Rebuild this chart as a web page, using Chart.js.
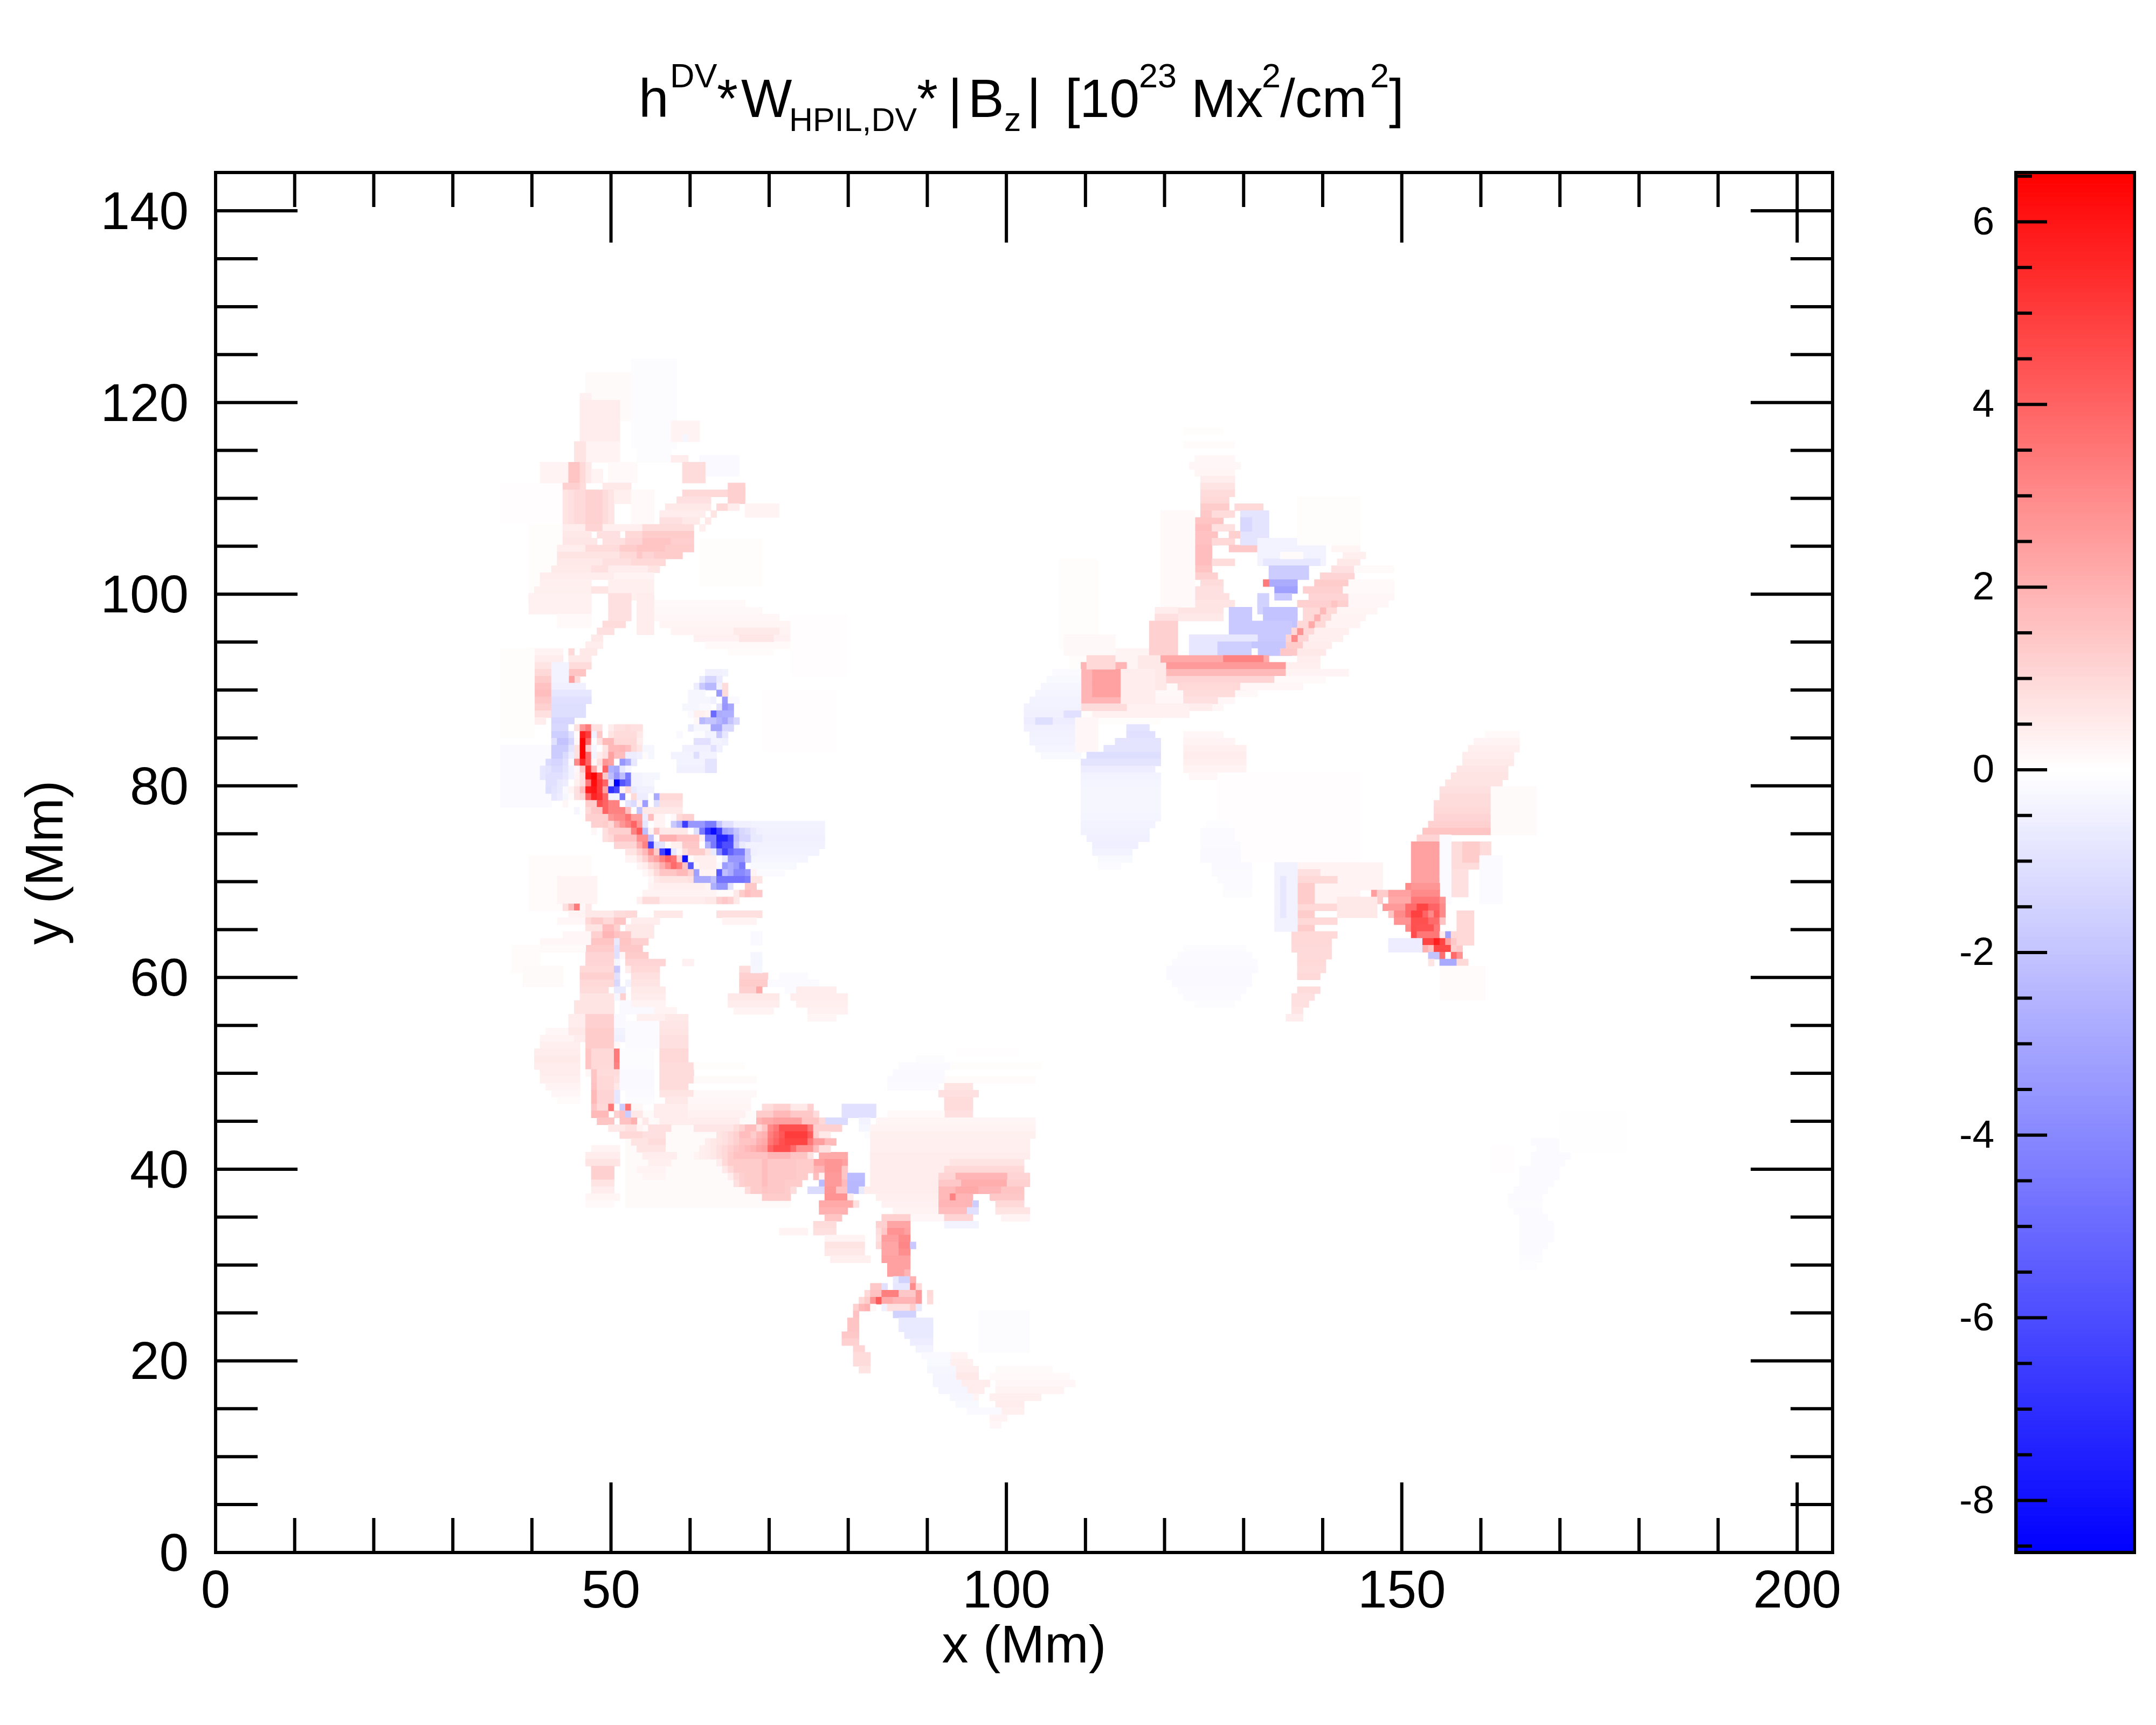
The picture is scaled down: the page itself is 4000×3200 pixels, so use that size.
<!DOCTYPE html>
<html><head><meta charset="utf-8">
<script src="https://cdn.jsdelivr.net/npm/chart.js@4"></script>
<style>
html,body{margin:0;padding:0;background:#fff;width:4000px;height:3200px;overflow:hidden}
canvas{position:absolute;display:block}
#title{position:absolute;left:0;top:0;font-family:"Liberation Sans",sans-serif;color:#000}
#title span{position:absolute;line-height:0;white-space:pre}
</style></head><body>
<canvas id="map" width="4000" height="3200" style="left:0;top:0"></canvas>
<canvas id="bar" width="500" height="3200" style="left:3500px;top:0"></canvas>
<div id="title"></div>
<script>
// Grid of the magnetogram, Mm per cell
const cellSize = 0.72, nCols = 284, nRows = 200;
const xMax = 204.48, yMax = 144, cMin = -8.57, cMax = 6.54;
const xMajor = [50,100,150,200];
const xMinor = [10,20,30,40,60,70,80,90,110,120,130,140,160,170,180,190];
const yMajor = [20,40,60,80,100,120,140];
const yMinor = [5,10,15,25,30,35,45,50,55,65,70,75,85,90,95,105,110,115,125,130,135];
const barMajor = [-8,-6,-4,-2,0,2,4,6];
const barMinor = [-8.5,-7.5,-7,-6.5,-5.5,-5,-4.5,-3.5,-3,-2.5,-1.5,-1,-0.5,0.5,1,1.5,2.5,3,3.5,4.5,5,5.5,6.5];

// Patches [firstCol,lastCol,firstRow,lastRow,value]; spans [row,firstCol,lastCol,value]; cells [row,firstCol,[values]]
const hazeNorthWest = [
[73,80,160,172,-.1],[65,72,164,170,.12],[64,65,167,167,.35],[64,70,161,166,.45],[63,70,158,160,.3],[63,64,158,160,.7],
[50,60,149,154,.06],[57,61,155,157,.3],[62,63,155,157,1.5],[64,64,155,157,1],[65,65,155,157,.6],[66,67,155,156,.3],
[74,79,158,165,-.1],[69,73,155,157,.15],[80,84,161,163,.3],[82,82,161,161,-.3],[85,91,156,158,-.2],[80,82,158,158,.5],[82,85,155,157,.9],
[61,63,154,154,1.2],[64,64,154,154,.9],[68,72,154,154,.6],
[61,61,149,153,.7],[62,62,149,153,.8],[63,64,149,153,.95],[65,67,149,153,1.15],[68,68,149,153,.9],[69,69,149,153,.7],[70,72,152,153,.4],[73,76,149,153,.15],
[82,92,153,153,1],[90,92,152,154,1.2],[81,86,152,152,.8],[79,86,151,151,.6],[88,89,151,151,1],[90,91,151,151,.5],[93,98,150,151,.3],[78,85,150,150,.5],[87,87,150,150,.7],[78,81,149,149,.8],[82,84,149,149,.6],[86,86,149,149,.6],
[55,60,138,148,.08],[61,64,148,148,.5],[65,67,148,148,1.1],[68,74,148,148,.4],[75,83,148,148,.9],[85,85,148,148,.4],
[61,65,147,147,.6],[67,70,147,147,.8],[72,75,147,147,1],[75,83,147,147,1.3],
[61,66,146,146,.65],[68,71,146,146,.8],[72,75,146,146,1.1],[75,80,146,146,1.5],[80,83,146,146,1.25],
[60,64,145,145,.5],[65,70,145,145,.9],[71,74,145,145,1.3],[74,79,145,145,1.5],[79,83,145,145,1.3],
[60,71,144,144,.7],[71,73,144,144,1],[74,74,144,144,1.4],[75,77,144,144,1.1],[77,81,144,144,1.3],
[60,67,143,143,.6],[68,73,143,143,.8],[73,78,143,143,1],
[59,65,142,142,.55],[66,68,142,142,.8],[69,75,142,142,.45],[76,77,142,142,.7],
[57,70,141,141,.45],[70,76,141,141,.3],[85,95,140,146,.08],
[57,65,140,140,.4],[56,65,139,139,.38],[55,65,138,138,.35],[55,65,136,137,.35],[66,68,139,139,.7],[69,76,138,140,.4],[69,72,135,138,.8],[60,65,134,135,.15],[68,71,134,134,.9],[67,69,133,133,.8],[66,67,132,132,.6],[65,67,131,131,.5],[62,62,130,130,1],[64,66,130,130,.6],[60,60,129,129,1],[62,65,129,129,.6],[62,65,128,128,.9],[62,64,127,127,1.5],[63,63,126,126,1],[62,62,126,126,2.4],
[55,60,130,130,.3],[55,60,129,129,.5],[55,59,128,128,.7],[55,58,127,127,1],[56,58,126,126,1.3],[56,58,125,125,1.6],[56,58,124,124,1.7],[56,58,123,123,1.4],[56,58,122,122,1.2],[55,58,121,121,.8],[54,57,120,120,.5],[50,55,118,130,.08],
[59,61,126,128,-.4],[59,64,125,125,-.5],[59,65,124,124,-.8],[59,65,123,123,-1],[59,64,122,122,-1.1],[59,64,121,121,-1.1],[59,62,120,120,-1.4],
[50,58,108,116,-.12],[137,75,92,.15],[136,76,95,.18],[135,77,98,.2],[134,78,100,.25],[133,80,101,.3],[132,84,103,.35],[131,86,100,.15],[130,90,97,.1],[133,91,98,.55],[132,92,97,.65],[74,76,133,138,.45],[101,110,127,135,.06],[96,108,116,124,.05]
];
const hazeArcSurround = [
[55,65,93,100,.1],[60,66,94,97,.3],[72,100,50,63,.12],[105,91,106,-.4],[104,94,106,-.45],[103,94,106,-.5],[102,92,106,-.45],[101,93,105,-.4],[100,93,103,-.35],[99,94,101,-.25],[98,95,99,-.15]
];
const cellsFilament = [
[127,86,[-.5,-.5,-.5,-.4]],[126,85,[-.7,-1.4,-1.4,-.7]],[125,84,[-.6,-1.8,-2.4,-2.4,-.5,.9]],[124,83,[-.3,-.3,-.3,null,null,-3.4,.9]],[123,83,[-.3,-.3,-.3,-.3,-.5,0,-3.4,-.2,-.2]],[122,82,[-.3,-.3,-.3,-.2,-.2,null,-.9,-3.5,-3]],[121,83,[-.2,.4,.4,.3,-5,-2.8,-2.7,-2.7]],[120,84,[.2,-2.4,-2,-2,-2.5,-3,-2,-1.3]],[119,83,[-.7,-.3,-.3,-.3,-3,-3,-1.3,-1.3]],[118,81,[-.2,null,null,-.1,-.1,-.4,-.4,-1.8,-.8]],[117,84,[-1,-1,-1,-.4,-.4,-.5]],[116,82,[-.5,-.5,-.5,-.5,-.5,-1,-.5]],[115,80,[-.4,-.4,-.4,-.4,-1.1,-.4,-.4,-.4]],[114,81,[-.4,-.4,-.4,-.4,-.4,-.9,-.9]],[113,81,[-.5,-.5,-.5,-.5,-.5,-.9,-.9]],
[119,59,[-1.3,-1.3,-1.3,0,.8,2.7,3.4,.8,.8,0,.5,.8,.8,.9,.8,.8]],
[118,59,[-1.6,-1.6,-1.6,-1,.1,5.8,5,-.5,1.4,0,.7,.9,.9,.9,.9,.6]],
[117,59,[-1,-2,-2,-1.4,.2,6.5,4,-.1,.8,1.8,1.8,1,1,1,1,.5]],
[116,59,[-1.7,-1.7,-1.7,-.9,.8,6.5,1.4,-.3,0,.7,1.8,1.8,1.9,1.7,1,.7,-.3,-.3]],
[115,59,[-1.7,-1.7,-1.2,-.6,.8,6.5,4,-.4,.5,.8,2.4,1.7,1.7,-.6,-.6,-.5,.1,-.3]],
[114,58,[-1.2,-1.4,-1.4,-1,-.2,3,5.5,4,.2,.8,2.7,2.4,0,-3.5,-2.7,-.8]],
[113,57,[-.8,-.9,-1.2,-1.2,-.9,-.4,.2,1.4,5.5,2.3,.4,4,-2.7,-3,-.8,-.3]],
[112,57,[-.8,-1,-1,-1,-.8,-.4,.3,.8,5.9,6.5,4.7,1.4,-2.2,-3.5,-2.2,-4.5,-.4,-.4,-.3,-.3,-.3]],
[111,58,[-1,-1,-.7,-.6,0,.4,.8,3.4,6.2,5,4,-.9,-8.5,-5.7,-4.8,-.4,-.4,-.3,-.3]],
[110,58,[-1.1,-.9,-.7,-.2,.3,.8,1.7,5.8,6,5,2.4,-7,-6.2,.3,1,-.7,-.5,-.5,-.5]],
[109,59,[-.8,-.6,-.3,.1,.8,1,4,5.6,5.2,4,-.4,-.4,-4.5,0,1,-.6,-.6,0,-2.9,1,1,1,1]],
[108,61,[.2,0,0,0,1.3,1.3,4.5,4,3.2,3.2,0,-.9,-1.2,.3,-3.3,0,-1.1,.8,.8,.8,.8]],
[107,63,[-.3,0,1,1.4,1.4,4,3.2,3.2,3.2,1.7,0,-2,.6,.6,.6,.6,.6,.6,.6]],
[106,65,[1.2,1.2,1.2,1.2,2.7,3,3,3.6,2.4,2.4,-.6,1.7,.3,.3,0,.2,1,1.2,1.2]],
[105,66,[1.2,1.2,1.3,1,2,2.7,3.2,4,2.7,-.8,0,.3,.3,0,-1.8,-2.7,-6.5,-3.5,-3.5,-3.5,-4.4,-4.4,-2,-1,-1,-.5,-.5,-.5]],
[104,66,[.2,0,.8,1.2,1.2,1.2,1.2,3.2,4.3,-2.2,.3,1.5,.6,.6,.6,.6,.6,0,-1.1,-4.5,-6.9,-8.2,-6.5,-3.2,-2.8,-1.9,-1.3,-1.1,-.7,-.5]],
[103,68,[.8,1,1.6,1.6,1.6,1.6,2.9,2.9,-2.2,.1,2,2,2,1.6,1.6,1.6,1.6,.4,-4.5,-4.5,-7.4,-7.4,-6.2,-2.2,-1.4,-1.4,-.7,-.7]],
[102,70,[1.1,1.1,1.1,1.1,2.1,3.2,-6.5,-1,-.9,.1,.4,.4,1.4,1.4,1.4,0,-2.7,-4.5,-7,-5.9,-5.9,-1.8,-.7]],
[101,72,[.7,.7,1.2,1.8,3,1.3,-6.4,-8.5,-.8,.2,.9,1.3,1.3,1.3,.7,-.7,-4,-6.5,-5.2,-4.4,-4.4,-1.8,-.5]],
[100,72,[.3,.3,.7,1.2,2,2.4,3.3,4,3.6,1.2,-8,.1,.4,.4,.4,.4,0,-.7,-3.5,-3.5,-3.5,-1.7]],
[99,74,[.3,.5,1,1.3,2.1,2.9,3.8,3.2,1.6,-5.7,.2,.4,.4,.4,-.2,-3.3,-2.8,-3.4,-4.5]],
[98,75,[.2,.5,1,1.5,1.5,1.5,1.8,1.8,1.2,-3.2,.3,.3,.3,-5.6,-2.2,-2.8,-4,-4,-3.5,.3]],
[97,76,[.2,.6,.7,.7,.7,.7,.7,.8,-2.9,-2.9,-2.9,-2.2,-4.7,-4.7,-4.7,-4.7,-4.7,-4.4,.7,.7]],
[96,76,[.3,.4,.4,.4,.4,.4,.4,.4,.4,.4,.3,-2.7,-3.6,-3.6,-1,0,0,1.4,1.4]],
[95,75,[.3,.3,.3,.3,.3,.3,.3,.3,.3,.3,.3,.3,.3,.1,.1,.1,.6,1.3,1.7,1.4,1.4]],
[94,74,[.4,.9,.9,.9,.5,.5,.5,.5,.5,.5,.5,.5,.6,.6,1.2,1.4,1.2,.6]],
[93,61,[.8,1.7,3.4,.2,.6]]
];
const hazeWestStreaks = [
[75,58,63,.2],[74,57,63,.3],[73,57,63,.4],[72,56,63,.5],[71,56,63,.55],[70,56,63,.5],[69,57,63,.45],[68,57,63,.4],[67,58,63,.3],[66,59,63,.2],[65,60,63,.1],[52,56,84,87,.1],[54,60,82,84,.12],
[92,62,64,.3],[92,65,69,.6],[92,70,71,.9],[92,72,73,1],[92,77,81,.6],[91,60,64,.2],[91,65,69,1],[91,66,67,1.3],[91,70,71,1.5],[91,73,77,.5],
[90,65,67,.7],[90,68,69,1.7],[90,70,70,1.2],[90,72,76,.6],[89,61,65,.2],[89,66,67,1.2],[89,68,69,1.9],[89,70,70,1.6],[89,71,72,1.4],[89,73,76,.6],
[88,57,65,.2],[88,66,69,1.5],[88,70,70,-.7],[88,71,72,1.5],[88,73,75,1.2],[87,65,69,1.3],[87,70,70,-1],[87,71,74,1.4],[87,57,64,.12],[86,65,69,1.1],[86,70,70,-1],[86,71,71,.2],[86,72,75,1.3],[85,65,69,1.1],[85,70,70,-.3],[85,72,78,1.1],
[84,64,69,1],[84,70,70,-1.8],[84,72,72,.5],[84,73,77,1],[83,64,69,1.2],[83,70,70,-1],[83,73,77,.8],[82,64,69,1],[82,70,70,-1.3],[82,72,72,-.4],[82,73,77,.7],[81,64,68,.9],[81,70,71,-.7],[81,73,78,.55],
[80,64,69,.7],[80,71,71,1.2],[80,73,78,.5],[80,70,70,-.3],[79,63,69,.7],[79,71,72,-.2],[79,73,78,.3],[78,63,69,.7],[78,71,76,-.2],[78,77,80,.3],
[77,62,64,.5],[77,65,69,1.2],[77,70,71,-.2],[77,74,78,.4],[77,79,82,.6],[76,62,64,.5],[76,65,69,1.2],[76,70,71,-.2],[76,72,77,-.15],[76,78,82,.65],[75,62,64,.6],[75,65,69,1.3],[75,70,71,-.4],[75,72,77,-.15],[75,78,82,.7],
[74,63,64,.5],[74,65,69,1.3],[74,70,71,-.5],[74,72,77,-.15],[74,78,82,.8],[73,65,69,1.3],[73,70,70,.2],[73,72,77,-.15],[73,78,82,.8],[72,65,65,1.5],[72,66,69,1],[72,70,70,3.4],[72,71,76,-.1],[72,78,82,1],[71,65,65,1.5],[71,66,69,1],[71,70,70,3.4],[71,71,76,-.1],[71,78,82,1],[70,65,65,1.5],[70,66,69,1],[70,70,70,3.2],[70,71,76,-.1],[70,78,83,.9],
[69,65,65,.2],[69,66,66,1.5],[69,67,70,.9],[69,71,76,-.2],[69,78,83,.9],[68,66,66,1.5],[68,67,69,1],[68,70,70,.8],[68,71,76,-.2],[68,78,83,.9],[67,66,66,1.6],[67,67,69,1],[67,70,70,.6],[67,71,76,-.2],[67,78,82,.9],
[66,66,66,1.8],[66,67,69,1.1],[66,70,70,-.8],[66,72,76,-.15],[66,78,84,.7],[65,66,66,1.8],[65,67,69,1.1],[65,70,70,-.8],[65,72,76,-.1],[65,79,84,.6],
[64,66,66,1.5],[64,67,68,1],[64,69,69,3.5],[64,70,70,.1],[64,71,71,-1.7],[64,72,72,3.6],[64,73,74,.2],[64,77,84,.5],[63,66,68,1.8],[63,70,70,1.2],[63,71,71,1.6],[63,72,72,-1.7],[63,73,74,.6],[63,77,83,.5],
[62,67,69,1.5],[62,71,72,1.6],[62,73,73,2],[62,75,75,.6],[62,78,83,.5],[61,69,71,.6],[61,72,73,.8],[61,74,74,.3],[61,76,79,.8],[60,71,74,1],[60,75,78,.8],[59,73,75,.7],[59,76,78,.9],[58,74,78,.7],[57,75,80,.5],[56,76,79,.4],
[58,66,70,.3],[57,65,70,.5],[56,65,70,.7],[55,66,69,1.2],[54,66,69,1.2],[53,66,69,.7],[52,66,69,.45],[51,65,70,.25],[50,65,69,.15],
[55,74,78,.3],[54,75,78,.25],
[92,88,95,.8],[91,89,94,.3],[85,82,83,.35],[84,92,93,.9],[83,92,96,1.2],[82,92,96,1.3],[81,92,94,1.2],[81,95,95,2.2],[80,90,98,.6],[79,90,98,.5],[78,91,97,.3],[84,94,95,-.3],[85,94,95,-.35],[86,94,95,-.3],[88,94,95,-.2],[89,94,95,-.2],
[83,99,103,-.15],[82,97,105,-.15],[81,100,103,-.12],[81,102,108,.45],[80,101,110,.5],[79,102,110,.4],[78,104,110,.35],[77,104,108,.25],
[70,84,92,.08],[68,84,94,.12],[66,84,94,.18],[65,83,93,.2],[64,83,93,.25],[63,83,92,.35],[62,84,91,.5],[61,84,90,.65]
];
const cellsCore = [
[64,96,[.9,.9,1.2,1.2,1.2,.6,.6,.6,1.2]],
[63,95,[1.3,1.3,1.3,1.8,1.8,1.8,1.4,1.4,1.4,1.4,.9]],
[62,95,[1.9,2.2,2.2,2.4,2.4,2.4,2.4,2.4,1.5,1.5,1.5,1]],
[61,91,[.9,1.2,1.7,1.7,.9,1.5,3,3.5,4.5,4.5,4.5,4.5,4.5,3.5,1.2,1.2,1.2,1.2,1.2]],
[60,88,[.7,.8,1,1.2,1.7,1.7,1.3,1.8,2,3.3,3.8,4.3,5,5,5,5,4.2,1.2,.6,.6]],
[59,86,[.5,.6,.7,.8,1,1.2,1.5,1.5,1.6,2,2.2,3.5,4,4.5,4.8,4.8,4.8,4.8,3.5,2.5,2.5,1.8,1.8]],
[58,85,[.4,.5,.6,.8,1,1.2,1.4,1.6,1.8,2,2.3,2.5,4,4.6,4.6,4.6,3.8,2.8,2.8,2.8,1.7,.8,.8]],
[57,84,[.3,.4,.5,.6,.8,1,1.3,1.6,1.6,1.6,1.6,1.6,1.6,1.9,1.9,1.9,1.9,1.5,1.5,1.5,.8]],
[56,88,[.5,1,1.3,1.3,1.3,1.3,1.3,1.3,1.7,1.4,1.4,1.4,1.4,1.4,1.3,1.3,1.3]],
[55,89,[.6,1,1.3,1.3,1.3,1.3,1.3,1.7,1.4,1.4,1.4,1.4,1.4,1.3,1.3,1.3]],
[54,90,[.5,1,1.2,1.3,1.3,1.3,1.7,1.4,1.4,1.4,1.4,1.4,1.3,1.3]],
[53,91,[.8,1.2,1.3,1.3,1.3,1.7,1.4,1.4,1.4,1.3,1.3,1.3]],
[52,93,[.9,1.3,1.3,1.5,1.4,1.4,1.4,1.3,.9]],
[51,96,[1.3,1.3,1.3,1.3,1.3]]
];
const hazeSouthCore = [
[57,106,110,2.2],[56,105,110,2.4],[56,107,109,2.7],[55,105,106,1.9],[55,107,109,2.7],[55,110,110,1.5],[54,105,105,1.7],[54,106,106,.3],[54,107,109,2.6],[54,110,110,1.5],[53,106,106,-2.3],[53,107,109,2.6],[53,110,110,1.8],[53,111,113,-2.4],[52,104,106,-1.2],[52,107,108,2.7],[52,109,110,1.6],[52,111,112,-2.4],[54,111,113,-2.3],[52,113,116,-.7],[51,107,110,2.8],[51,111,111,.5],[50,106,111,2.2],[50,112,112,.8],[49,106,110,2],[48,107,109,1.5],[47,105,108,.9],[46,105,108,.8],[45,107,113,.3],[44,107,113,.7],[43,107,113,.6],[42,108,114,.4],[46,99,103,.3],
[62,107,110,-1.2],[64,110,115,-1],[63,110,115,-1],[62,113,114,-.4],[61,113,114,-.3],[60,114,115,-.1],
[71,123,127,-.1],[70,120,128,-.18],[69,119,127,-.2],[68,118,127,-.2],[67,118,126,-.12],
[72,130,140,.06],[70,129,144,.08],[68,128,143,.1],[67,128,132,.7],[66,127,133,.8],[65,128,132,.9],[64,128,132,.9],[63,128,132,.8],[63,118,127,.15],[62,116,143,.25],[61,115,143,.32],[60,115,143,.38],[59,115,142,.4],[58,115,142,.42],[57,115,142,.5],
[56,115,128,.45],[56,129,141,.7],[55,115,127,.45],[55,128,141,1],[54,115,127,.45],[54,127,142,1.1],[54,130,138,1.9],[53,115,127,.45],[53,127,130,1.4],[53,131,138,2.1],[53,139,142,1.2],[52,114,126,.45],[52,127,129,1.8],[52,130,133,2.2],[52,134,137,1.9],[52,138,141,1.5],[51,116,126,.4],[51,127,128,1.8],[51,129,129,3.2],[51,130,132,1.9],[51,136,141,1.4],[50,117,126,.35],[50,127,132,1.9],[50,133,135,0],[50,133,133,-1.7],[50,137,141,1],[49,119,126,.3],[49,127,131,1.7],[49,132,133,-1],[49,137,142,.7],[48,121,127,.2],[48,128,132,1.1],[48,138,142,.3],[47,128,133,-.4],
[48,117,121,1.2],[47,116,117,1.2],[47,118,121,2.3],[46,116,116,.9],[46,117,117,1.4],[46,118,120,2.8],[46,121,121,2.4],[45,116,116,.8],[45,117,119,2.5],[45,120,121,3],[44,116,116,1],[44,117,119,2.3],[44,120,121,3.1],[44,122,122,-1.8],[43,117,119,2.3],[43,120,121,2.9],[42,117,121,2.4],[41,118,121,2.4],[40,118,120,2.4],[40,121,121,1.9],
[39,119,119,-.7],[39,120,121,-1.5],[39,122,122,2],[38,115,116,1.4],[38,117,117,-1],[38,119,121,-.8],[38,122,122,3],[38,123,123,1],[37,114,114,1],[37,115,116,1.6],[37,117,119,3.3],[37,120,122,1.4],[37,123,123,2.6],[37,125,125,1],[36,113,113,1],[36,114,114,1.3],[36,115,115,2.8],[36,116,116,4.2],[36,117,118,2.2],[36,119,122,1.9],[36,123,123,2.6],[36,125,125,.9],[35,112,112,1.2],[35,113,113,1.8],[35,114,114,2],[35,115,115,.2],[35,117,117,-.5],[35,118,121,.8],[35,122,122,1.3],[35,123,123,-.7],[34,112,112,1.6],[34,119,122,-1.5],
[33,111,112,1.5],[32,111,112,1.5],[31,110,112,1.4],[30,110,112,1.2],[29,112,113,1.1],[28,112,114,.9],[27,112,114,.9],[26,113,114,.7],[33,120,125,-.7],[32,120,125,-.75],[31,121,125,-.7],[30,122,125,-.6],[29,123,125,-.4],
[28,129,131,.3],[27,129,132,.4],[26,130,133,.5],[25,129,133,.6],[24,130,135,.5],[23,130,134,.5],[22,131,133,.3],[26,137,146,.12],[25,136,149,.15],[24,137,150,.2],[23,137,148,.3],[22,136,144,.4],[21,137,141,.5],[20,138,141,.4],[19,136,138,.3],[18,136,137,.2],
[28,124,128,-.2],[27,125,128,-.25],[26,125,129,-.3],[25,126,129,-.35],[24,126,130,-.35],[23,127,131,-.35],[22,129,132,-.3],[21,130,133,-.25],[20,132,137,-.2],[134,142,29,34,-.1]
];
const hazeNorthEast = [
[150,165,120,130,.08],[125,165,188,.15],[124,165,182,.18],[123,165,178,.2],[122,165,176,.2],
[162,170,176,.08],[160,170,178,.1],[158,172,178,.2],[157,171,179,.2],[156,172,178,.25],[155,173,178,.5],[154,173,178,.7],[153,173,178,.9],[152,173,177,1],[151,173,177,1.3],[150,173,177,1.4],[149,172,176,1.5],[148,172,175,1.7],[147,172,175,1.6],[146,171,175,1.6],[145,171,174,1.7],[144,171,174,1.7],[143,171,174,1.7],[142,172,174,1.5],[141,172,175,1.2],[140,173,176,.9],[139,170,176,.8],[138,168,177,.8],[137,167,178,.7],[136,166,176,.7],[135,165,176,.6],[166,171,137,150,.15],
[151,179,183,1],[150,175,178,.9],[148,175,178,.8],[146,175,178,1],[145,178,182,1.4],[147,178,182,1.2],[146,180,182,2],[143,175,178,.9],
[180,184,146,150,-.9],[180,181,148,149,-1.3],[183,194,143,146,-.4],[184,193,143,143,-.8],[185,191,141,142,-1.7],[185,189,140,140,-2.8],[186,189,139,139,-3.2],[184,184,140,140,3.4],[183,184,136,138,-1.5],[186,188,138,138,-1.8],[184,189,134,136,-2],[182,188,130,134,-1.8],[178,181,131,136,-1.8],[171,182,130,132,-.8],[176,182,130,131,-1.6],[182,188,130,131,-1.9],[182,182,130,130,0],
[148,154,131,143,.08],[156,164,127,130,.28],[149,157,130,132,.18],[136,165,168,.5],[135,165,168,.8],[164,168,130,134,1.2],[162,166,125,129,.6],
[166,184,129,129,2.2],[177,183,129,129,3.2],[167,187,128,128,2.6],[167,188,127,127,1.8],[167,186,126,126,1.1],[169,180,125,125,1],[170,178,124,124,.9],[170,175,123,123,.8],[171,174,122,122,.5],[154,170,121,122,.35],
[152,159,123,128,1.9],[154,158,124,127,2.4],[153,157,128,129,1],[151,159,122,122,.9],[159,164,123,127,.5],
[144,187,190,.1],[130,187,190,1.4],[131,188,191,1.3],[132,188,192,1.1],[132,189,189,3],[133,189,193,1],[133,190,190,2.8],[134,190,195,1],[134,192,192,2.2],[135,191,196,1],[135,193,193,2],[136,191,197,1],[136,194,194,1.8],[137,190,199,1.2],[137,196,196,1.5],[138,192,199,1.1],[139,191,198,1.2],[140,193,199,1.3],[141,194,199,1.1],[142,196,200,.8],[143,197,200,.6],[144,198,201,.4],
[128,188,193,.4],[127,188,198,.3],[129,190,193,.5],[130,190,194,.6],[131,191,195,.5],[132,192,197,.4],[133,193,198,.4],[134,195,200,.3],[135,196,201,.3],[136,197,203,.25],[137,199,205,.2],[138,199,206,.2],[126,186,194,.15],[125,180,190,.2],[139,198,206,.15],[140,199,206,.15],[142,200,206,.12],
[197,199,148,150,.6],[196,200,145,147,.25],[190,200,146,152,.08],
[127,147,151,-.15],[126,146,151,-.25],[125,145,151,-.3],[124,144,151,-.35],[123,143,151,-.4],[122,142,151,-.45],[121,142,151,-.5],[120,142,151,-.6],[119,142,151,-.5],[118,143,151,-.45],[117,143,151,-.4],[116,144,151,-.35],[115,145,151,-.25],[149,151,121,121,-1],[144,146,120,120,-1.1],[151,154,116,120,.2],
[119,160,163,-.9],[118,160,164,-1],[117,158,165,-.9],[116,156,165,-.9],[115,153,165,-1.1],[114,152,165,-.9],[113,152,164,-.6],[112,152,165,-.4],[111,152,165,-.32],[110,152,165,-.3],[109,152,165,-.3],[108,152,165,-.3],[107,152,165,-.3],[106,152,165,-.32],[105,152,164,-.4],[104,152,163,-.45],[103,153,163,-.5],[102,154,161,-.55],[101,154,160,-.4],[100,155,160,-.25],[99,155,158,-.15],
[118,170,176,.2],[117,170,178,.3],[116,170,180,.4],[115,170,180,.45],[114,170,180,.4],[113,170,180,.3],[112,171,178,.2],[176,200,100,112,.05],
[105,174,177,-.08],[104,173,178,-.12],[103,173,178,-.15],[102,173,179,-.18],[101,173,179,-.2],[100,173,179,-.2],[99,175,181,-.2],[98,175,181,-.18],[97,176,181,-.15],[96,177,181,-.12],[95,177,181,-.1],
[87,170,180,-.1],[86,169,181,-.14],[85,168,182,-.18],[84,167,182,-.2],[83,167,181,-.2],[82,168,181,-.2],[81,169,180,-.18],[80,170,179,-.14],[79,172,178,-.1]
];
const hazeEast = [
[118,223,228,.15],[117,221,228,.3],[116,220,228,.4],[115,219,227,.5],[114,219,227,.55],[113,218,226,.65],[112,217,226,.7],[111,216,225,.7],[110,215,224,.8],[109,215,224,.9],[108,214,224,.9],[107,214,223,1],[106,214,223,1.1],[105,213,223,1.2],[104,212,223,1.5],[224,231,104,110,.14],[103,211,215,1.1],
[188,204,96,99,.3],[190,200,93,96,.3],
[210,215,97,102,2.4],[217,223,99,102,.9],[217,219,95,98,.8],[219,221,100,102,1.3],[222,225,94,100,-.15],[215,216,94,103,-.15],
[96,209,209,3],[96,210,214,2.7],[95,203,203,2.5],[95,204,205,1.3],[95,206,209,2.4],[95,210,214,3],[94,204,204,1.3],[94,206,209,2.2],[94,210,214,3.5],[94,215,215,2.8],[93,205,208,2.6],[93,209,210,3.8],[93,211,212,4.8],[93,213,214,4],[93,215,215,3],[92,206,206,1.5],[92,207,208,3],[92,209,209,3.8],[92,210,211,4.9],[92,212,212,4],[92,213,213,3],[92,214,214,4.2],[92,215,215,3],[91,207,209,2.8],[91,210,212,4.5],[91,213,214,3.8],[91,215,215,1.6],[90,209,209,3],[90,210,210,4.5],[90,211,213,4.4],[90,214,214,3.5],[89,210,210,4.6],[89,211,214,3.5],[89,215,215,.5],[89,216,216,-3.2],[89,217,217,1],[88,206,211,-.6],[88,212,213,4.8],[88,214,214,5.8],[88,215,215,4.8],[88,216,216,2.4],[88,217,217,1.4],[87,206,211,-.6],[87,212,212,2],[87,213,213,1.5],[87,214,216,4.7],[87,217,217,1.2],[87,218,218,1.4],[86,213,214,-2],[86,215,215,3.7],[86,216,216,0],[86,217,217,3.8],[86,218,218,2.8],[85,213,213,.7],[85,215,217,-2.9],[85,218,219,1],[218,220,88,92,1],[215,222,80,84,.1],
[98,190,193,.8],[97,189,196,1],[90,190,192,1.3],[95,190,192,1.3],[93,189,196,1],[91,189,196,1],[89,189,196,1],[87,189,195,.95],[92,190,192,1.3],[96,190,192,1.3],[94,190,192,1.3],[85,190,194,1],[83,190,193,1],[81,190,193,.9],[80,189,192,.8],[79,189,191,.8],[78,189,190,.7],[77,188,190,.5],[84,190,194,.9],[86,190,195,.95],[88,189,195,1],
[186,189,90,99,-.45],[187,187,92,97,-.8],[197,203,92,94,.6]
];
const hazeFarEast = [
[59,231,238,-.12],[58,232,238,-.14],[57,231,237,-.15],[56,231,236,-.15],[55,229,235,-.12],[54,229,235,-.15],[53,229,234,-.15],[52,228,233,-.12],[51,227,232,-.12],[50,227,232,-.1],[49,228,232,-.12],[48,229,233,-.12],[47,229,234,-.14],[46,229,234,-.14],[45,229,234,-.14],[44,229,233,-.14],[43,229,232,-.12],[42,229,232,-.1],[41,229,231,-.08],
[236,247,58,63,-.05],[224,227,55,58,.04]
];
const mapLayers = [hazeNorthWest, hazeArcSurround, cellsFilament, hazeWestStreaks, hazeSouthCore, cellsCore, hazeNorthEast, hazeEast, hazeFarEast];

// Title fragments: [text, left, baseline, font size]
const titleParts = [["h",1185,217,100],["DV",1243,162,63],["*",1330,217,100],["W",1375,217,100],["HPIL,DV",1464,243,61],["*",1701,217,100],["|",1759,217,100],["B",1796,217,100],["z",1863,243,63],["|",1905,217,100],["[",1976,217,100],["10",2003,217,100],["23",2113,162,63],["Mx",2210,217,100],["2",2341,162,63],["/cm",2375,217,100],["2",2542,162,63],["]",2577,217,100]];

function colorOf(v){
  if (v >= 0){ const g = Math.round(255*(1 - Math.min(v/cMax,1))); return `rgb(255,${g},${g})`; }
  const b = Math.round(255*(1 - Math.min(v/cMin,1))); return `rgb(${b},${b},255)`;
}
const mapBars = [], mapColors = [];
function addBar(r,c0,c1,v){
  mapBars.push({y:(r+.5)*cellSize, x:[c0*cellSize,(c1+1)*cellSize]});
  mapColors.push(colorOf(v));
}
for (const layer of mapLayers){
  for (const e of layer){
    if (Array.isArray(e[2])){
      e[2].forEach((v,i)=>{ if (v!==null) addBar(e[0],e[1]+i,e[1]+i,v); });
    } else if (e.length===4){
      addBar(e[0],e[1],e[2],e[3]);
    } else {
      for (let r=e[2]; r<=e[3]; r++) addBar(r,e[0],e[1],e[4]);
    }
  }
}
const FONT = '"Liberation Sans", Arial, sans-serif';
const framePlugin = {
  id:'frame',
  afterDraw(chart){
    const {ctx, chartArea:a, scales:{x,y}} = chart;
    ctx.save(); ctx.strokeStyle='#000'; ctx.lineWidth=6; ctx.lineCap='butt';
    const seg=(x0,y0,x1,y1)=>{ctx.beginPath();ctx.moveTo(x0,y0);ctx.lineTo(x1,y1);ctx.stroke();};
    for (const t of xMajor){const p=x.getPixelForValue(t); seg(p,a.bottom,p,a.bottom-130); seg(p,a.top,p,a.top+130);}
    for (const t of xMinor){const p=x.getPixelForValue(t); seg(p,a.bottom,p,a.bottom-64); seg(p,a.top,p,a.top+64);}
    for (const t of yMajor){const p=y.getPixelForValue(t); seg(a.left,p,a.left+152,p); seg(a.right,p,a.right-152,p);}
    for (const t of yMinor){const p=y.getPixelForValue(t); seg(a.left,p,a.left+78,p); seg(a.right,p,a.right-78,p);}
    ctx.strokeRect(a.left,a.top,a.right-a.left,a.bottom-a.top);
    ctx.restore();
  }
};
new Chart(document.getElementById('map'),{
  type:'bar',
  data:{datasets:[{data:mapBars,backgroundColor:mapColors,borderWidth:0,barThickness:12.8,grouped:false,inflateAmount:0.5}]},
  options:{
    indexAxis:'y',responsive:false,animation:false,devicePixelRatio:1,
    layout:{padding:{top:320,right:600,left:0,bottom:0}},
    plugins:{legend:{display:false},title:{display:false},tooltip:{enabled:false}},
    scales:{
      x:{type:'linear',min:0,max:xMax,grid:{display:false},border:{display:false},
        afterFit(s){s.height=320;},
        ticks:{stepSize:50,includeBounds:false,autoSkip:false,maxRotation:0,font:{family:FONT,size:98},color:'#000',padding:8},
        title:{display:true,text:'x (Mm)',font:{family:FONT,size:98},color:'#000',padding:{top:84,bottom:84}}},
      y:{type:'linear',min:0,max:yMax,offset:false,grid:{display:false},border:{display:false},
        afterFit(s){s.width=400;},
        ticks:{stepSize:20,includeBounds:false,autoSkip:false,font:{family:FONT,size:98},color:'#000',padding:42,labelOffset:7},
        title:{display:true,text:'y (Mm)',font:{family:FONT,size:98},color:'#000',padding:{top:30,bottom:30}}}
    }
  },
  plugins:[framePlugin]
});
// Colour bar
const levelStep = 0.05, barLevels = [];
for (let l=cMin; l<cMax; l+=levelStep) barLevels.push(l);
const barPlugin = {
  id:'barframe',
  afterDraw(chart){
    const {ctx, chartArea:a, scales:{y}} = chart;
    ctx.save(); ctx.strokeStyle='#000'; ctx.lineWidth=6;
    const seg=(x0,y0,x1,y1)=>{ctx.beginPath();ctx.moveTo(x0,y0);ctx.lineTo(x1,y1);ctx.stroke();};
    for (const t of barMajor){const p=y.getPixelForValue(t); seg(a.left,p,a.left+58,p);}
    for (const t of barMinor){const p=y.getPixelForValue(t); seg(a.left,p,a.left+30,p);}
    ctx.strokeRect(a.left,a.top,a.right-a.left,a.bottom-a.top);
    ctx.restore();
  }
};
new Chart(document.getElementById('bar'),{
  type:'bar',
  data:{datasets:[{data:barLevels.map(l=>({y:l+levelStep/2,x:[0,1]})),backgroundColor:barLevels.map(l=>colorOf(l+levelStep/2)),borderWidth:0,barThickness:9,grouped:false}]},
  options:{
    indexAxis:'y',responsive:false,animation:false,devicePixelRatio:1,
    layout:{padding:{top:320,right:40,left:0,bottom:320}},
    plugins:{legend:{display:false},title:{display:false},tooltip:{enabled:false}},
    scales:{
      x:{type:'linear',min:0,max:1,display:false},
      y:{type:'linear',min:cMin,max:cMax,offset:false,grid:{display:false},border:{display:false},
        afterFit(s){s.width=240;},
        ticks:{stepSize:2,includeBounds:false,autoSkip:false,font:{family:FONT,size:73},color:'#000',padding:32,labelOffset:3}}
    }
  },
  plugins:[barPlugin]
});
// Title, real text with super- and subscripts
const tEl = document.getElementById('title');
for (const [txt,l,base,size] of titleParts){
  const s=document.createElement('span'); s.textContent=txt;
  s.style.left=l+'px'; s.style.top=(base-0.3465*size)+'px'; s.style.fontSize=size+'px';
  tEl.appendChild(s);
}
</script>
</body></html>
